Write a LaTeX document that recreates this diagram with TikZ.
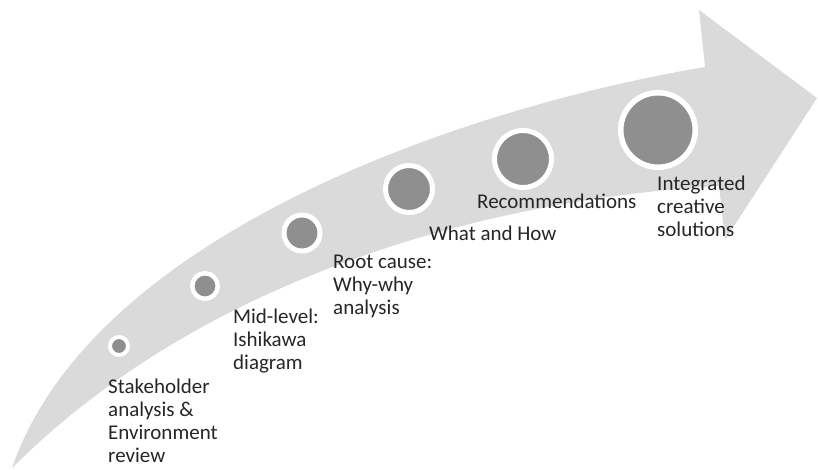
\documentclass[tikz,border=0pt]{standalone}
\usepackage{fontspec}
\setmainfont{Carlito}
\definecolor{bandgray}{RGB}{218,218,219}
\definecolor{dotgray}{RGB}{143,143,143}
\definecolor{labelink}{RGB}{38,38,38}
\tikzset{
  milestone/.style={circle, fill=dotgray, draw=white, inner sep=0pt},
  % multi-line labels are placed by the baseline of their last line
  steplabel/.style={anchor=base west, inner sep=0pt, align=left, text=labelink,
    font=\fontsize{21}{23}\selectfont},
}
\begin{document}
\begin{tikzpicture}[x=1pt, y=-1pt]
\useasboundingbox (0,0) rectangle (818,469);

% curved progress arrow
\coordinate (tail) at (12,468);
\coordinate (upnotch) at (705,67);
\coordinate (headtop) at (699,10);
\coordinate (headtip) at (817,98);
\coordinate (headbot) at (725,240);
\coordinate (lownotch) at (719,186);
\fill[bandgray] (tail) .. controls (90,240) and (450,110) .. (upnotch)
  -- (headtop) -- (headtip) -- (headbot) -- (lownotch)
  .. controls (480,200) and (200,280) .. (tail) -- cycle;

% milestones, growing along the arrow
\node[milestone, minimum size=18pt, line width=4pt] (m1) at (119,346) {};
\node[milestone, minimum size=25.5pt, line width=4.5pt] (m2) at (205,286) {};
\node[milestone, minimum size=36pt, line width=5pt] (m3) at (302,233) {};
\node[milestone, minimum size=47pt, line width=5pt] (m4) at (409,189) {};
\node[milestone, minimum size=57pt, line width=5pt] (m5) at (523,159) {};
\node[milestone, minimum size=74.5pt, line width=5.5pt] (m6) at (658,130) {};

% stage labels
\node[steplabel] (l1) at (108,462) {Stakeholder\\analysis \&\\Environment\\review};
\node[steplabel] (l2) at (233,369) {Mid-level:\\Ishikawa\\diagram};
\node[steplabel] (l3) at (333,314) {Root cause:\\Why-why\\analysis};
\node[steplabel] (l4) at (429,240) {What and How};
\node[steplabel] (l5) at (477,208) {Recommendations};
\node[steplabel] (l6) at (657,236) {Integrated\\creative\\solutions};
\end{tikzpicture}
\end{document}
